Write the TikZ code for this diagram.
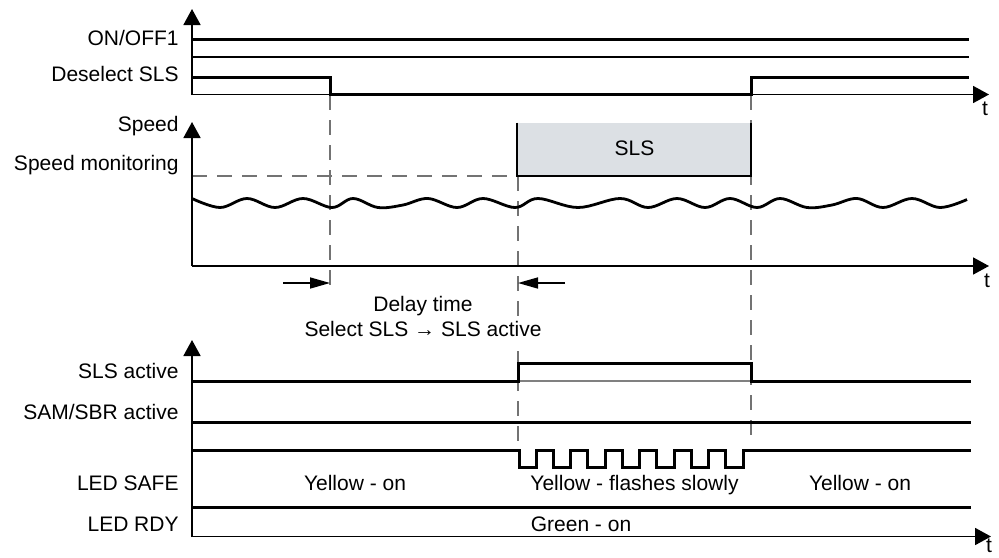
\documentclass[tikz,border=0pt]{standalone}
\usepackage{fontspec}
\setmainfont{Liberation Sans}
\usetikzlibrary{arrows.meta}
\definecolor{slsgray}{RGB}{220,224,228}

\begin{document}
\begin{tikzpicture}[x=0.5pt,y=-0.5pt,
	font=\fontsize{10.5}{12.5}\selectfont,
	sig/.style={line width=1.5pt},
	axis/.style={line width=0.9pt,-{Triangle[length=8pt,width=8.5pt]}},
	guide/.style={black!55,line width=0.7pt,dash pattern=on 7.5pt off 5pt},
	delay/.style={line width=0.8pt,-{Triangle[length=10pt,width=5.5pt]}},
	lbl/.style={anchor=base east,inner sep=0pt},
	txt/.style={anchor=base,inner sep=0pt}]
	\useasboundingbox (0,0) rectangle (999,557);
	% dashed guides
	\draw[guide] (330,95) -- (330,292);
	\draw[guide] (518,176) -- (518,443);
	\draw[guide] (751,95) -- (751,442);
	\draw[guide] (192,176) -- (517,176);
	% top: ON/OFF1, Deselect SLS
	\draw[axis] (192,95) -- (192,9);
	\draw[axis] (192,94.5) -- (989,94.5);
	\node[txt] (t1) at (985,115) {t};
	\draw[line width=0.6pt] (192,57) -- (969,57);
	\draw[sig] (192,39.5) -- (969,39.5);
	\draw[sig] (192,77) -- (330,77) -- (330,94.5) -- (751,94.5) -- (751,77) -- (969,77);
	\node[lbl] (onoff) at (179,45) {ON/OFF1};
	\node[lbl] (desel) at (179,81.7) {Deselect SLS};
	% speed
	\fill[slsgray] (517,122.5) rectangle (751,176);
	\draw[line width=1.1pt] (517,122.5) -- (517,176) -- (751,176) -- (751,122.5);
	\node[txt] (sls) at (634.5,155) {SLS};
	\draw[axis] (192,266) -- (192,122);
	\draw[axis] (192,266) -- (989,266);
	\node[txt] (t2) at (987,287) {t};
	\draw[sig,line width=1.4pt] plot[smooth,tension=0.6] coordinates {(192,198.5) (220,207.5) (247,198.5) (275,207.5) (303,198.5) (332,207.5) (353,198.5) (378,207.5) (403,205) (428,198.5) (457,207.5) (483,198.5) (515,207.5) (538,198.5) (578,207.5) (620,198.5) (648,207.5) (677,198.5) (705,207.5) (730,198.5) (757,207.5) (780,198.5) (807,207.5) (832,205) (857,198.5) (883,207.5) (912,198.5) (940,207.5) (967,199.5)};
	\node[lbl] (speed) at (179,131.7) {Speed};
	\node[lbl] (speedmon) at (179,170) {Speed monitoring};
	% delay time
	\draw[delay] (283,283) -- (330,283);
	\draw[delay] (565,283) -- (518,283);
	\node[txt,fill=white,inner sep=2.5pt] (dtime) at (423,311.7) {Delay time};
	\node[txt,fill=white,inner sep=2.5pt] (dsel) at (423,336.7) {Select SLS → SLS active};
	% bottom: status and LEDs
	\draw[axis] (192,537) -- (192,340);
	\draw[axis] (192,536.5) -- (991,536.5);
	\node[txt] (t3) at (989,552) {t};
	\draw[black!50,line width=0.6pt] (518,381) -- (751,381);
	\draw[sig] (192,381) -- (518,381) -- (518,363) -- (751,363) -- (751,381) -- (971,381);
	\draw[sig] (192,422) -- (971,422);
	\draw[sig] (192,450) -- (519,450) -- (519,467)
		\foreach \k in {1,3,...,11} { -- ({519+17.23*\k},467) -- ({519+17.23*\k},450) -- ({519+17.23*(\k+1)},450) -- ({519+17.23*(\k+1)},467) }
		-- (743,467) -- (743,450) -- (971,450);
	\draw[sig] (192,507) -- (971,507);
	\node[lbl] (slsact) at (179,378) {SLS active};
	\node[lbl] (samsbr) at (179,419) {SAM/SBR active};
	\node[lbl] (ledsafe) at (179,490) {LED SAFE};
	\node[lbl] (ledrdy) at (179,531) {LED RDY};
	\node[txt] (yon1) at (355,490) {Yellow - on};
	\node[txt] (yflash) at (634.5,490) {Yellow - flashes slowly};
	\node[txt] (yon2) at (860,490) {Yellow - on};
	\node[txt] (gon) at (581,531) {Green - on};
\end{tikzpicture}
\end{document}
